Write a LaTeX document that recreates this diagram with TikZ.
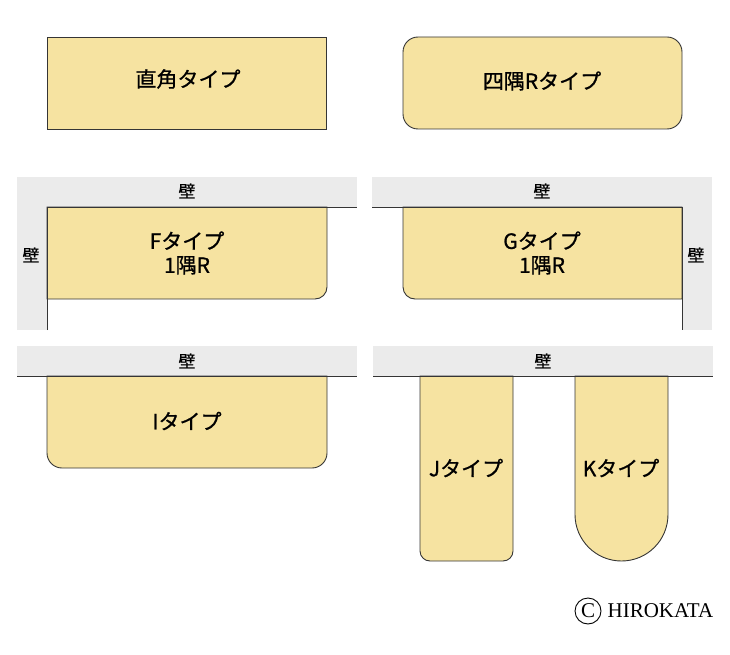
\documentclass[tikz,border=0pt]{standalone}
\usepackage{fontspec}
\setmainfont{Liberation Serif}
\newfontfamily\jpfont[FakeBold=0.8]{Noto Sans CJK JP}
\usepackage{tikz}
\usetikzlibrary{positioning}

\definecolor{counterfill}{HTML}{F6E3A1}
\definecolor{wallgray}{HTML}{EBEBEB}
\definecolor{edgegray}{HTML}{353535}

\tikzset{
  counter/.style={fill=counterfill, draw=edgegray, line width=0.9pt},
  wall/.style={fill=wallgray, draw=none},
  walledge/.style={draw=edgegray, line width=0.9pt},
  typelabel/.style={font=\jpfont\fontsize{21}{24}\selectfont, align=center, inner sep=0pt},
  walllabel/.style={font=\jpfont\fontsize{17}{17}\selectfont, inner sep=0pt}
}

\begin{document}
\begin{tikzpicture}[x=1pt, y=-1pt]
\useasboundingbox (0,0) rectangle (730,655);

% Top row: plain and rounded
\filldraw[counter] (47,37) rectangle (326,129);
\node[typelabel] (plain) at (188,79) {直角タイプ};
\filldraw[counter, rounded corners=15pt] (403,37) rectangle (682,129);
\node[typelabel] (allr) at (542,81) {四隅Rタイプ};

% F type: walls top and left
\fill[wall] (17,177) rectangle (357,207);
\fill[wall] (17,177) rectangle (47,330);
\filldraw[counter] (47,207) -- (327,207) -- (327,287)
    arc[start angle=0, end angle=90, radius=12] -- (47,299) -- cycle;
\draw[walledge] (47,330) -- (47,207) -- (357,207);
\node[walllabel] (fwalltop) at (187,191) {壁};
\node[walllabel] (fwallside) at (31,255) {壁};
\node[typelabel] (ftype) at (187,253) {Fタイプ\\1隅R};

% G type: walls top and right
\fill[wall] (372,177) rectangle (712,207);
\fill[wall] (682,177) rectangle (712,330);
\filldraw[counter] (403,207) -- (682,207) -- (682,299) -- (415,299)
    arc[start angle=90, end angle=180, radius=12] -- cycle;
\draw[walledge] (372,207) -- (682,207) -- (682,330);
\node[walllabel] (gwalltop) at (542,191) {壁};
\node[walllabel] (gwallside) at (696,255) {壁};
\node[typelabel] (gtype) at (542,253) {Gタイプ\\1隅R};

% I type
\fill[wall] (17,346) rectangle (357,376);
\filldraw[counter] (47,376) -- (327,376) -- (327,453)
    arc[start angle=0, end angle=90, radius=15] -- (62,468)
    arc[start angle=90, end angle=180, radius=15] -- cycle;
\draw[walledge] (17,376) -- (357,376);
\node[walllabel] (iwall) at (187,361) {壁};
\node[typelabel] (itype) at (187,421) {Iタイプ};

% J and K types
\fill[wall] (373,346) rectangle (713,376);
\filldraw[counter] (420,376) -- (513,376) -- (513,551)
    arc[start angle=0, end angle=90, radius=10] -- (430,561)
    arc[start angle=90, end angle=180, radius=10] -- cycle;
\filldraw[counter] (575,376) -- (668,376) -- (668,514.5)
    arc[start angle=0, end angle=180, radius=46.5] -- cycle;
\draw[walledge] (373,376) -- (713,376);
\node[walllabel] (jkwall) at (543,361) {壁};
\node[typelabel] (jtype) at (466,468) {Jタイプ};
\node[typelabel] (ktype) at (621,468) {Kタイプ};

% copyright
\node[circle, draw, line width=0.9pt, inner sep=1.5pt, minimum size=26pt,
      font=\fontsize{21}{21}\selectfont] (copymark) at (588,611) {C};
\node[font=\fontsize{21}{21}\selectfont, inner sep=0pt, anchor=west,
      right=6pt of copymark] (owner) {HIROKATA};
\end{tikzpicture}
\end{document}
